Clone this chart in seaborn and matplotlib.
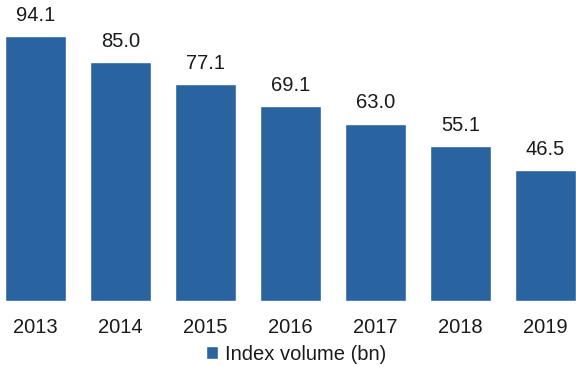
import matplotlib
matplotlib.use("Agg")
import matplotlib.pyplot as plt
from matplotlib.patches import Patch
import seaborn as sns
import pandas as pd

years = ["2013", "2014", "2015", "2016", "2017", "2018", "2019"]
volume = [94.1, 85.0, 77.1, 69.1, 63.0, 55.1, 46.5]
series_name = "Index volume (bn)"

sns.set_theme(style="white")
plt.rcParams["font.family"] = ["Liberation Sans", "DejaVu Sans"]

bar_color = "#2a64a0"
df = pd.DataFrame({"year": years, "volume": volume})

fig = plt.figure(figsize=(5.76, 3.67), dpi=100)
ax = fig.add_axes([0, 66 / 367, 1, 301 / 367])
sns.barplot(data=df, x="year", y="volume", color=bar_color, width=0.72,
            saturation=1, ax=ax)

for patch, v in zip(ax.patches, volume):
    ax.annotate(f"{v:.1f}", (patch.get_x() + patch.get_width() / 2, v),
                xytext=(0, 8), textcoords="offset points",
                ha="center", va="bottom", fontsize=14.5, color="#1a1a1a")

ax.set_xlim(-0.418, 6.36)
ax.set_ylim(0, 106.9)
ax.set_xlabel("")
ax.set_ylabel("")
ax.set_yticks([])
ax.tick_params(axis="x", length=0, labelsize=14.5, pad=12, colors="#1a1a1a")
for s in ax.spines.values():
    s.set_visible(False)

fig.legend(handles=[Patch(facecolor=bar_color, label=series_name)],
           loc="center", bbox_to_anchor=(0.514, 13 / 367), frameon=False,
           fontsize=14.5, handlelength=0.6, handleheight=0.6, handletextpad=0.3,
           labelcolor="#1a1a1a")

fig.savefig("out.png", dpi=100)
